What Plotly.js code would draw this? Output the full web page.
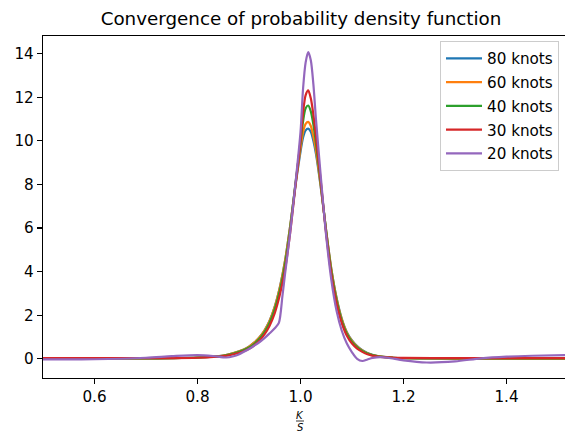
<!DOCTYPE html>
<html>
<head>
<meta charset="utf-8">
<script src="https://cdn.plot.ly/plotly-3.0.1.min.js"></script>
<style>
  html, body { margin: 0; padding: 0; overflow: hidden; background: #fff; }
  #chart { width: 565px; height: 432px; }
</style>
</head>
<body>
<div id="chart"></div>
<script>
// Shared grid for 80/60/40/30 knots
const xGrid = [0.5, 0.6, 0.7, 0.75, 0.8, 0.85, 0.87, 0.89, 0.9, 0.91,
  0.92, 0.93, 0.94, 0.95, 0.96, 0.97, 0.98, 0.99, 1.0, 1.005,
  1.01, 1.015, 1.02, 1.025, 1.03, 1.04, 1.05, 1.06, 1.07, 1.08,
  1.09, 1.1, 1.11, 1.12, 1.13, 1.15, 1.18, 1.2, 1.3, 1.4, 1.52];

const pdf80 = [0.01, 0.01, 0.02, 0.03, 0.06, 0.15, 0.26, 0.43, 0.56, 0.74,
  0.98, 1.3, 1.75, 2.4, 3.3, 4.5, 6.1, 7.9, 9.5, 10.15,
  10.48, 10.56, 10.42, 10.0, 9.4, 7.75, 5.85, 4.1, 2.8, 1.85,
  1.22, 0.84, 0.58, 0.4, 0.27, 0.13, 0.05, 0.03, 0.01, 0.01, 0.01];

const pdf60 = [0.01, 0.01, 0.02, 0.03, 0.06, 0.15, 0.26, 0.43, 0.56, 0.74,
  0.98, 1.3, 1.74, 2.38, 3.28, 4.5, 6.1, 7.95, 9.65, 10.4,
  10.78, 10.87, 10.68, 10.2, 9.55, 7.8, 5.85, 4.1, 2.78, 1.83,
  1.2, 0.82, 0.56, 0.39, 0.26, 0.12, 0.05, 0.03, 0.01, 0.01, 0.01];

const pdf40 = [0.01, 0.01, 0.02, 0.03, 0.06, 0.14, 0.24, 0.4, 0.52, 0.69,
  0.92, 1.23, 1.66, 2.28, 3.15, 4.35, 6.0, 8.0, 9.9, 10.9,
  11.5, 11.62, 11.35, 10.75, 9.9, 7.9, 5.8, 4.0, 2.7, 1.76,
  1.15, 0.78, 0.53, 0.36, 0.24, 0.11, 0.05, 0.03, 0.02, 0.02, 0.02];

const pdf30 = [0.03, 0.03, 0.03, 0.03, 0.05, 0.12, 0.21, 0.35, 0.46, 0.62,
  0.83, 1.12, 1.52, 2.1, 2.95, 4.1, 5.8, 7.9, 10.0, 11.3,
  12.1, 12.32, 11.95, 11.2, 10.2, 8.0, 5.7, 3.85, 2.55, 1.65,
  1.06, 0.7, 0.47, 0.32, 0.21, 0.1, 0.05, 0.04, 0.03, 0.03, 0.03];

// 20 knots has its own sample points (wiggles in the tails)
const x20 = [0.5, 0.6, 0.7, 0.75, 0.8, 0.83, 0.856, 0.87, 0.88, 0.89,
  0.9, 0.91, 0.92, 0.93, 0.94, 0.95, 0.958, 0.965, 0.97, 0.98,
  0.99, 1.0, 1.005, 1.01, 1.015, 1.02, 1.025, 1.03, 1.04, 1.05,
  1.06, 1.07, 1.08, 1.09, 1.1, 1.11, 1.12, 1.13, 1.14, 1.155,
  1.17, 1.2, 1.245, 1.3, 1.35, 1.4, 1.45, 1.52];
const pdf20 = [-0.03, -0.02, 0.05, 0.12, 0.17, 0.13, 0.06, 0.12, 0.2, 0.32,
  0.45, 0.6, 0.76, 0.95, 1.17, 1.4, 1.65, 2.9, 3.9, 5.8,
  8.0, 10.4, 12.4, 13.6, 14.07, 13.7, 12.6, 11.0, 8.2, 5.6,
  3.6, 2.2, 1.3, 0.7, 0.3, 0.0, -0.1, -0.03, 0.04, 0.08,
  0.05, -0.07, -0.17, -0.12, 0.02, 0.1, 0.14, 0.17];

const seriesNames = ['80 knots', '60 knots', '40 knots', '30 knots', '20 knots'];
const seriesX = [xGrid, xGrid, xGrid, xGrid, x20];
const seriesY = [pdf80, pdf60, pdf40, pdf30, pdf20];
const colors = ['#1f77b4', '#ff7f0e', '#2ca02c', '#d62728', '#9467bd'];

const xTicks = [0.6, 0.8, 1.0, 1.2, 1.4];
const yTicks = [0, 2, 4, 6, 8, 10, 12, 14];

const FONT = 'DejaVu Sans, sans-serif';

const traces = seriesNames.map((n, i) => ({
  type: 'scatter', mode: 'lines', name: n,
  x: seriesX[i], y: seriesY[i],
  legendgroup: 'g' + i,
  line: { color: colors[i], width: 2.2, shape: 'spline', smoothing: 0.8 },
  hoverinfo: 'skip'
}));

const L = 43, T = 36, B = 54, W = 565, H = 432;

const layout = {
  width: W, height: H,
  margin: { l: L, r: 0, t: T, b: B, pad: 0 },
  paper_bgcolor: '#fff', plot_bgcolor: '#fff',
  font: { family: FONT, size: 15, color: '#000' },
  title: {
    text: 'Convergence of probability density function',
    font: { family: FONT, size: 18.3, color: '#000' },
    x: 301 / W, xanchor: 'center', xref: 'container',
    y: 1 - 19 / H, yanchor: 'middle', yref: 'container'
  },
  xaxis: {
    range: [0.5, 1.5136],
    tickvals: xTicks, ticktext: xTicks.map(v => v.toFixed(1)),
    ticks: 'outside', ticklen: 5, tickwidth: 1.2, tickcolor: '#000',
    showline: true, linecolor: '#000', linewidth: 1.2, mirror: true,
    showgrid: false, zeroline: false,
    tickfont: { family: FONT, size: 15.2, color: '#000' }
  },
  yaxis: {
    range: [-0.88, 14.81],
    tickvals: yTicks, ticktext: yTicks.map(v => String(v)),
    ticks: 'outside', ticklen: 5, tickwidth: 1.2, tickcolor: '#000',
    showline: true, linecolor: '#000', linewidth: 1.2, mirror: false,
    showgrid: false, zeroline: false,
    tickfont: { family: FONT, size: 15.2, color: '#000' }
  },
  legend: {
    x: (559 - L) / (W - L), xanchor: 'right',
    y: (H - B - 41) / (H - B - T), yanchor: 'top',
    bgcolor: 'rgba(255,255,255,0.8)', bordercolor: '#cccccc', borderwidth: 1,
    font: { family: FONT, size: 15.2, color: '#000' },
    tracegroupgap: 1, itemwidth: 36
  },
  showlegend: true,
  annotations: [
    { text: '<i>K</i>', xref: 'paper', yref: 'paper', x: (300 - L) / (W - L), y: -(415 - (H - B)) / (H - B - T),
      xanchor: 'center', yanchor: 'middle', showarrow: false, font: { family: FONT, size: 10, color: '#000' } },
    { text: '<i>S</i>', xref: 'paper', yref: 'paper', x: (300 - L) / (W - L), y: -(427 - (H - B)) / (H - B - T),
      xanchor: 'center', yanchor: 'middle', showarrow: false, font: { family: FONT, size: 10, color: '#000' } }
  ],
  shapes: [
    { type: 'line', xref: 'paper', yref: 'paper',
      x0: (296 - L) / (W - L), x1: (304 - L) / (W - L),
      y0: -(421 - (H - B)) / (H - B - T), y1: -(421 - (H - B)) / (H - B - T),
      line: { color: '#000', width: 0.8 } }
  ]
};

Plotly.newPlot('chart', traces, layout, { displayModeBar: false, staticPlot: true });
</script>
</body>
</html>
